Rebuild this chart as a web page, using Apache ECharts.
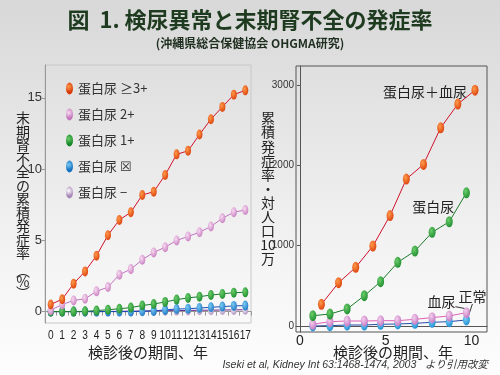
<!DOCTYPE html>
<html><head><meta charset="utf-8">
<script src="https://cdn.jsdelivr.net/npm/echarts@6/dist/echarts.min.js"></script>
<style>
html,body{margin:0;padding:0;width:500px;height:375px;overflow:hidden;
background:linear-gradient(to bottom,#d8d8d8 0%,#e6e6e6 35%,#f4f4f4 70%,#fdfdfd 100%);}
#c{width:500px;height:375px;}
</style>
</head><body><div id="c"></div>
<script>
// ---- Left chart data (cumulative incidence of ESRD, %) ----
const leftYears = ['0','1','2','3','4','5','6','7','8','9','10','11','12','13','14','15','16','17'];
const prot3   = [0.5,0.87,1.96,2.82,3.92,5.36,6.43,6.97,8.18,8.41,9.58,11.03,11.28,12.42,13.5,14.36,15.22,15.52];
const prot2   = [0.1,0.5,0.78,0.9,1.42,1.72,2.59,2.98,3.64,4.15,4.52,4.99,5.27,5.57,5.97,6.55,6.97,7.13];
const prot1   = [0,0,0,0.02,0.07,0.13,0.2,0.28,0.43,0.53,0.68,0.84,0.96,1.05,1.16,1.24,1.33,1.35];
const protPM  = [0,0,0,0,0,0,0,0,0.02,0.05,0.12,0.18,0.2,0.25,0.3,0.35,0.4,0.42];
const protNeg = [0,0,0,0,0,0.01,0.02,0.03,0.04,0.05,0.06,0.07,0.08,0.09,0.1,0.11,0.12,0.13];
const leftYTicks = [0,5,10,15];
const leftNames = ['蛋白尿 ≥3+','蛋白尿 2+','蛋白尿 1+','蛋白尿 ☒','蛋白尿 −'];

// ---- Right chart data (cumulative incidence per 100,000) ----
const yearsProtHema = [1.25,2.25,3.25,4.25,5.25,6.2,7.2,8.2,9.2,10.2];
const yearsOther    = [0.75,1.75,2.75,3.75,4.7,5.7,6.7,7.7,8.7,9.7];
const protHema = [270,539,731,996,1376,1831,2014,2470,2765,2939];
const protOnly = [128,149,212,377,552,793,934,1167,1299,1660];
const hemaOnly = [21,54,62,62,66,66,83,104,125,166];
const normal   = [0,4,12,12,21,25,33,46,54,75];
const rightYTicks = [0,1000,2000,3000];
const rightXTicks = [0,5,10];

const CJK = '"Noto Sans CJK JP","Noto Sans",sans-serif';
const SANS = '"Liberation Sans",sans-serif';
const ELL = 'path://M35,0 A35,60 0 1,1 35,120 A35,60 0 1,1 35,0 Z';

function grad(c1, c2){
  return {type:'radial', x:0.38, y:0.35, r:0.75, colorStops:[{offset:0,color:c1},{offset:1,color:c2}]};
}
const G = {
  orange: grad('#ff9a4a','#d83a08'),
  pink:   grad('#f8dcf2','#c478bc'),
  green:  grad('#6ccc6a','#17882a'),
  blue:   grad('#7ccaf4','#1672c0'),
  lav:    grad('#ffffff','#a888b8'),
  pinkR:  grad('#f4d0ee','#c070bc'),
  blueR:  grad('#80d0f6','#1888d0')
};
function ser(name, data, lineColor, color, gi, size, z){
  return {name:name, type:'line', xAxisIndex:gi, yAxisIndex:gi, data:data,
    symbol:ELL, symbolSize:size, showSymbol:true, showAllSymbol:true, z:z,
    lineStyle:{color:lineColor, width:1}, itemStyle:{color:color},
    emphasis:{disabled:true}, animation:false};
}
function pairs(xs, ys){ return xs.map((x,i)=>[x, ys[i]]); }

const chart = echarts.init(document.getElementById('c'), null, {renderer:'canvas'});
const option = {
  animation:false,
  backgroundColor:'transparent',
  grid:[
    {left:45, top:65, width:206, height:258, show:true, borderColor:'#c8c8c8', borderWidth:1, backgroundColor:'transparent'},
    {left:296, top:66, width:191, height:266, show:true, borderColor:'#555', borderWidth:1, backgroundColor:'transparent'}
  ],
  legend:{
    data:leftNames, orient:'vertical', left:61, top:77, itemGap:13,
    itemWidth:7, itemHeight:12, icon:ELL, selectedMode:false,
    textStyle:{fontSize:13, color:'#333', fontFamily:CJK}
  },
  xAxis:[
    {type:'category', gridIndex:0, data:leftYears, boundaryGap:true,
     axisLine:{lineStyle:{color:'#999'}}, axisTick:{show:true, interval:0, length:4, lineStyle:{color:'#999'}},
     axisLabel:{show:false, interval:0},
     splitLine:{show:false}},
    {type:'value', gridIndex:1, min:-0.23, max:10.9,
     axisLine:{show:true, lineStyle:{color:'#555'}}, axisTick:{show:false},
     axisLabel:{customValues:rightXTicks, fontSize:14, color:'#222', margin:2, fontFamily:SANS},
     splitLine:{show:false}}
  ],
  yAxis:[
    {type:'value', gridIndex:0, min:-0.8, max:17.3,
     axisLine:{show:true, lineStyle:{color:'#999'}},
     axisTick:{show:true, customValues:leftYTicks, length:3, lineStyle:{color:'#999'}},
     axisLabel:{customValues:leftYTicks, fontSize:13, color:'#333', margin:3, fontFamily:SANS},
     splitLine:{show:false}},
    {type:'value', gridIndex:1, min:-75, max:3240,
     axisLine:{show:true, lineStyle:{color:'#555'}},
     axisTick:{show:true, customValues:rightYTicks, length:3, lineStyle:{color:'#555'}},
     axisLabel:{customValues:rightYTicks, fontSize:10, color:'#333', margin:2, fontFamily:SANS,
                formatter:function(v){return String(v);}},
     splitLine:{show:false}}
  ],
  series:[
    ser(leftNames[4], protNeg, '#6a2a8a', G.lav, 0, [6,10], 2),
    ser(leftNames[3], protPM, '#1a4ab8', G.blue, 0, [6,10], 3),
    ser(leftNames[2], prot1, '#1a7a2a', G.green, 0, [6,10], 4),
    ser(leftNames[1], prot2, '#c070c0', G.pink, 0, [6,10], 5),
    ser(leftNames[0], prot3, '#d0102a', G.orange, 0, [6,10], 6),
    ser('正常', pairs(yearsOther, normal), '#2a4aa8', G.blueR, 1, [7,11], 2),
    ser('血尿', pairs(yearsOther, hemaOnly), '#e060b8', G.pinkR, 1, [7,11], 3),
    ser('蛋白尿', pairs(yearsOther, protOnly), '#1a7a2a', G.green, 1, [7,11], 4),
    ser('蛋白尿＋血尿', pairs(yearsProtHema, protHema), '#d0102a', G.orange, 1, [7,11], 5)
  ]
};
chart.setOption(option);

const graphics = [
  {id:'title', type:'text', left:'center', top:9, style:{text:'図  1. 検尿異常と末期腎不全の発症率', font:'bold 22px '+CJK, fill:'#1e3b20'}},
  {id:'sub', type:'text', left:'center', top:37, style:{text:'(沖縄県総合保健協会 OHGMA研究)', font:'bold 12px '+CJK, fill:'#1f2f20'}},
  {id:'ynameL', type:'text', x:23, y:111, style:{text:'末\n期\n腎\n不\n全\nの\n累\n積\n発\n症\n率', font:'14px '+CJK, lineHeight:13.5, fill:'#222', align:'center', verticalAlign:'top'}},
  {id:'ynameL2', type:'text', x:23, y:265, style:{text:'︵\n%\n︶', font:'14px '+CJK, lineHeight:11, fill:'#222', align:'center', verticalAlign:'top'}},
  {id:'ynameR', type:'text', x:268, y:111, style:{text:'累\n積\n発\n症\n率\n・\n対\n人\n口\n10\n万', font:'14px '+CJK, lineHeight:14.1, fill:'#222', align:'center', verticalAlign:'top'}},
  {id:'xnameL', type:'text', x:148, y:352, style:{text:'検診後の期間、年', font:'15px '+CJK, fill:'#222', align:'center', verticalAlign:'middle'}},
  {id:'xnameR', type:'text', x:393, y:352, style:{text:'検診後の期間、年', font:'15px '+CJK, fill:'#222', align:'center', verticalAlign:'middle'}},
  {id:'cite', type:'text', x:488, y:365, style:{text:'Iseki et al, Kidney Int 63:1468-1474, 2003   より引用改変', font:'italic 10.5px "Liberation Sans",'+CJK, fill:'#333', align:'right', verticalAlign:'middle'}}
];

// condensed tick labels for the left x axis, placed at the axis' own category positions
const axisBottom = chart.convertToPixel({yAxisIndex:0}, -0.8);
leftYears.forEach(function(lab, i){
  const px = chart.convertToPixel({xAxisIndex:0}, lab);
  graphics.push({id:'xl'+i, type:'text', x:px, y:axisBottom+12, scaleX:0.78,
    style:{text:lab, font:'13px '+SANS, fill:'#222', align:'center', verticalAlign:'middle'}});
});

// annotation labels anchored to the data
const toPx = function(p){ return chart.convertToPixel({xAxisIndex:1, yAxisIndex:1}, p); };
const pLastPH = toPx([yearsProtHema[9], protHema[9]]);
const pProt = toPx([yearsOther[8], protOnly[8]]);
const pHema = toPx([yearsOther[9], hemaOnly[9]]);
const pNorm = toPx([yearsOther[9], normal[9]]);
const lblFont = '14px '+CJK;
graphics.push(
  {id:'a1', type:'text', x:pLastPH[0]-50, y:pLastPH[1]+2, style:{text:'蛋白尿＋血尿', font:lblFont, fill:'#222', align:'center', verticalAlign:'middle'}},
  {id:'a2', type:'text', x:pProt[0]-16, y:pProt[1]-15, style:{text:'蛋白尿', font:lblFont, fill:'#222', align:'center', verticalAlign:'middle'}},
  {id:'a3', type:'text', x:pHema[0]-25, y:pHema[1]-11, style:{text:'血尿', font:lblFont, fill:'#222', align:'center', verticalAlign:'middle'}},
  {id:'a4', type:'text', x:pNorm[0]+6, y:pNorm[1]-23, style:{text:'正常', font:lblFont, fill:'#222', align:'center', verticalAlign:'middle'}},
  {id:'l1', type:'line', shape:{x1:pHema[0]-11, y1:pHema[1]-6, x2:pHema[0]-1, y2:pHema[1]-4}, style:{stroke:'#333', lineWidth:1}},
  {id:'l2', type:'line', shape:{x1:pNorm[0]+6, y1:pNorm[1]-16, x2:pNorm[0]+1, y2:pNorm[1]-1}, style:{stroke:'#333', lineWidth:1}}
);
chart.setOption({graphic:graphics});
</script>
</body></html>
